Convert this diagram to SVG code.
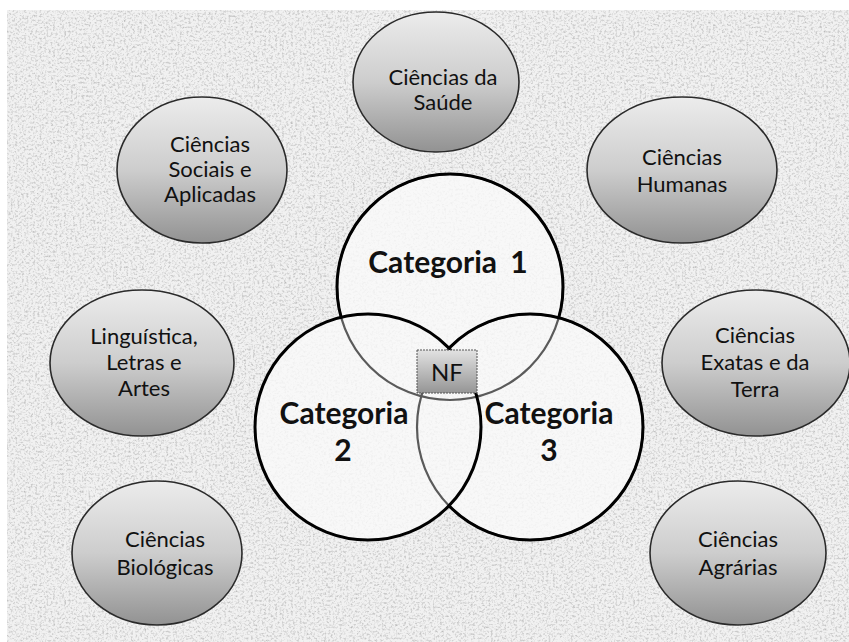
<svg xmlns="http://www.w3.org/2000/svg" width="849" height="642" viewBox="0 0 849 642">
<defs>
<filter id="noise" x="0" y="0" width="100%" height="100%">
<feTurbulence type="fractalNoise" baseFrequency="0.45" numOctaves="3" seed="11" result="t"/>
<feColorMatrix in="t" type="matrix" values="0 0 0 0 0.5  0 0 0 0 0.5  0 0 0 0 0.5  2.2 0 0 0 -1.02"/>
</filter>
<linearGradient id="ell" x1="0" y1="0" x2="0" y2="1">
<stop offset="0" stop-color="#ececec"/>
<stop offset="0.5" stop-color="#cdcdcd"/>
<stop offset="1" stop-color="#929292"/>
</linearGradient>
<linearGradient id="nfg" x1="0" y1="0" x2="0" y2="1">
<stop offset="0" stop-color="#e2e2e2"/>
<stop offset="1" stop-color="#959595"/>
</linearGradient>
<mask id="out23" maskUnits="userSpaceOnUse" x="0" y="0" width="849" height="642">
<rect x="0" y="0" width="849" height="642" fill="#fff"/>
<circle cx="368" cy="427" r="112" fill="#000"/>
<circle cx="530" cy="427" r="112" fill="#000"/>
</mask>
<mask id="out2" maskUnits="userSpaceOnUse" x="0" y="0" width="849" height="642">
<rect x="0" y="0" width="849" height="642" fill="#fff"/>
<circle cx="368" cy="427" r="112" fill="#000"/>
</mask>
</defs>
<style>
.ell{fill:url(#ell);stroke:#2a2a2a;stroke-width:1.6}
.lbl{font-family:Lato,"Liberation Sans",sans-serif;font-size:22px;fill:#111;text-anchor:middle}
.cat{font-family:Lato,"Liberation Sans",sans-serif;font-size:30px;font-weight:bold;fill:#111;text-anchor:middle}
.ring{fill:none;stroke:#000;stroke-width:3}
.faded{fill:none;stroke:#5a5a5a;stroke-width:2.2}
</style>
<rect x="0" y="0" width="849" height="642" fill="#ffffff"/>
<rect x="7" y="10" width="842" height="632" fill="#f1f1f1"/>
<rect x="7" y="10" width="842" height="632" filter="url(#noise)"/>

<g id="venn">
<g opacity="0.8" fill="#fafafa">
<circle cx="450" cy="287" r="113"/>
<circle cx="530" cy="427" r="113"/>
<circle cx="368" cy="427" r="113"/>
</g>
<g id="categoria1">
<circle class="faded" cx="450" cy="287" r="113"/>
<circle class="ring" cx="450" cy="287" r="113" mask="url(#out23)"/>
<text class="cat" x="448" y="273" word-spacing="6">Categoria 1</text>
</g>
<g id="categoria3">
<circle class="faded" cx="530" cy="427" r="113"/>
<circle class="ring" cx="530" cy="427" r="113" mask="url(#out2)"/>
<text class="cat" x="549" y="424">Categoria</text>
<text class="cat" x="549" y="461">3</text>
</g>
<g id="categoria2">
<circle class="ring" cx="368" cy="427" r="113"/>
<text class="cat" x="344" y="424">Categoria</text>
<text class="cat" x="343" y="461">2</text>
</g>
</g>

<g id="nf">
<rect x="417" y="350" width="60" height="43" fill="url(#nfg)" stroke="#555" stroke-width="1" stroke-dasharray="2 1"/>
<text class="lbl" x="447" y="381" style="font-size:24px">NF</text>
</g>

<g id="saude">
<ellipse class="ell" cx="436" cy="82" rx="83" ry="70"/>
<text class="lbl" x="443" y="85">Ciências da</text>
<text class="lbl" x="443" y="110">Saúde</text>
</g>
<g id="sociais">
<ellipse class="ell" cx="202" cy="170" rx="85" ry="73"/>
<text class="lbl" x="210" y="152">Ciências</text>
<text class="lbl" x="210" y="177">Sociais e</text>
<text class="lbl" x="210" y="202">Aplicadas</text>
</g>
<g id="humanas">
<ellipse class="ell" cx="682" cy="170" rx="95" ry="73"/>
<text class="lbl" x="682" y="165">Ciências</text>
<text class="lbl" x="682" y="192">Humanas</text>
</g>
<g id="linguistica">
<ellipse class="ell" cx="142" cy="363" rx="92" ry="73"/>
<text class="lbl" x="144" y="344">Linguística,</text>
<text class="lbl" x="144" y="370">Letras e</text>
<text class="lbl" x="144" y="396">Artes</text>
</g>
<g id="exatas">
<ellipse class="ell" cx="756" cy="363" rx="94" ry="73"/>
<text class="lbl" x="755" y="343">Ciências</text>
<text class="lbl" x="755" y="370">Exatas e da</text>
<text class="lbl" x="755" y="397">Terra</text>
</g>
<g id="biologicas">
<ellipse class="ell" cx="157" cy="553" rx="85" ry="72"/>
<text class="lbl" x="165" y="547">Ciências</text>
<text class="lbl" x="165" y="575">Biológicas</text>
</g>
<g id="agrarias">
<ellipse class="ell" cx="738" cy="553" rx="88" ry="72"/>
<text class="lbl" x="738" y="547">Ciências</text>
<text class="lbl" x="738" y="575">Agrárias</text>
</g>
<g id="connectors"/>
</svg>
